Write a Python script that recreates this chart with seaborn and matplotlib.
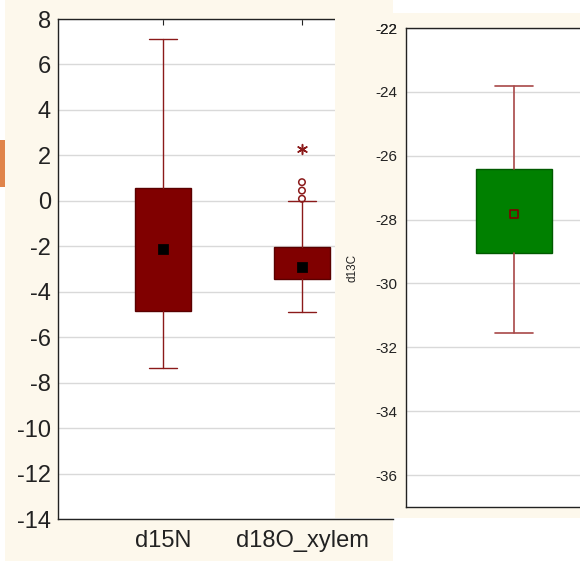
import matplotlib
matplotlib.use("Agg")
import matplotlib.pyplot as plt
from matplotlib.patches import Rectangle
import seaborn as sns
import pandas as pd

# ---- data ----
left_vars = ["d15N", "d18O_xylem"]
left_whislo = [-7.35, -4.88]
left_q1 = [-4.83, -3.43]
left_q3 = [0.57, -2.02]
left_whishi = [7.12, 0.0]
left_mid = [-2.1, -2.9]
outlier_vals = [0.09, 0.45, 0.82]
extreme_vals = [2.29]

right_var = ["d13C"]
right_whislo = [-31.55]
right_q1 = [-29.06]
right_q3 = [-26.41]
right_whishi = [-23.83]
right_mid = [-27.82]

left_yticks = list(range(-14, 9, 2))
right_yticks = list(range(-36, -21, 2))

sns.set_style("white")
plt.rcParams['font.family'] = ['Liberation Sans', 'DejaVu Sans']
plt.rcParams['axes.unicode_minus'] = False

W, H = 580, 561
fig = plt.figure(figsize=(W / 100, H / 100), dpi=100)
fig.patch.set_facecolor("white")

cream = "#FDF8EC"
def fr(x0, y0, x1, y1):
    return [x0 / W, 1 - y1 / H, (x1 - x0) / W, (y1 - y0) / H]

# background panels
l, b, w, h = fr(5, 0, 393, 561)
fig.patches.append(Rectangle((l, b), w, h, transform=fig.transFigure, facecolor=cream, edgecolor="none", zorder=-2))
l, b, w, h = fr(0, 140, 5, 187)
fig.patches.append(Rectangle((l, b), w, h, transform=fig.transFigure, facecolor="#E0844A", edgecolor="none", zorder=-2))
l, b, w, h = fr(335, 13, 580, 518)
fig.patches.append(Rectangle((l, b), w, h, transform=fig.transFigure, facecolor=cream, edgecolor="none", zorder=1))

# ---- left panel ----
axL = fig.add_axes(fr(58, 19, 393, 519))
axL.set_zorder(0)
axL.set_facecolor("white")
statsL = []
for i, v in enumerate(left_vars):
    statsL.append(dict(label=v, whislo=left_whislo[i], q1=left_q1[i], med=left_mid[i],
                       q3=left_q3[i], whishi=left_whishi[i], fliers=[]))
axL.bxp(statsL, positions=[0, 1], widths=0.40, capwidths=0.20, patch_artist=True,
        showfliers=False,
        boxprops=dict(facecolor="#800000", edgecolor="#5a0000", linewidth=1),
        whiskerprops=dict(color="#8B1A1A", linewidth=1),
        capprops=dict(color="#8B1A1A", linewidth=1),
        medianprops=dict(linewidth=0))
dfm = pd.DataFrame({"x": [0, 1], "y": left_mid})
sns.scatterplot(data=dfm, x="x", y="y", ax=axL, marker="s", s=45, color="black",
                edgecolor="black", zorder=5)
dfo = pd.DataFrame({"x": [1] * len(outlier_vals), "y": outlier_vals})
sns.scatterplot(data=dfo, x="x", y="y", ax=axL, marker="o", s=22, facecolor="none",
                edgecolor="#8B1A1A", linewidth=1.1, zorder=5)
dfe = pd.DataFrame({"x": [1] * len(extreme_vals), "y": extreme_vals})
sns.scatterplot(data=dfe, x="x", y="y", ax=axL, marker=(6, 2, 0), s=50,
                color="#8B1A1A", edgecolor="#8B1A1A", linewidth=1.1, zorder=5)
axL.set_xlim(-0.755, 1.655)
axL.set_ylim(-14, 8)
axL.set_yticks(left_yticks)
axL.set_xticks([0, 1])
axL.set_xticklabels(left_vars)
axL.yaxis.grid(True, color="#d9d9d9", linewidth=1)
axL.set_axisbelow(True)
axL.set_xlabel("")
axL.set_ylabel("")
axL.tick_params(axis="y", direction="in", length=3, labelsize=17, pad=5, colors="#222222")
axL.tick_params(axis="x", direction="in", length=4, labelsize=17, pad=8, colors="#222222", top=True)
for s in ["left", "bottom", "top"]:
    axL.spines[s].set_color("#222222")
    axL.spines[s].set_linewidth(1)
axL.spines["right"].set_visible(False)

# ---- right panel ----
axR = fig.add_axes(fr(406, 28, 622, 507))
axR.set_zorder(2)
axR.set_facecolor("white")
statsR = [dict(label=right_var[0], whislo=right_whislo[0], q1=right_q1[0], med=right_mid[0],
               q3=right_q3[0], whishi=right_whishi[0], fliers=[])]
axR.bxp(statsR, positions=[0], widths=0.352, capwidths=0.176, patch_artist=True,
        showfliers=False,
        boxprops=dict(facecolor="#008000", edgecolor="#005a00", linewidth=1),
        whiskerprops=dict(color="#A84848", linewidth=1.2),
        capprops=dict(color="#A84848", linewidth=1.2),
        medianprops=dict(linewidth=0))
dfr = pd.DataFrame({"x": [0], "y": right_mid})
sns.scatterplot(data=dfr, x="x", y="y", ax=axR, marker="s", s=28, facecolor="none",
                edgecolor="#800000", linewidth=1.2, zorder=5)
axR.set_xlim(-0.5, 0.5)
axR.set_ylim(-37, -22)
axR.set_yticks(right_yticks + [-22])
axR.set_xticks([])
axR.yaxis.grid(True, color="#d9d9d9", linewidth=1)
axR.set_axisbelow(True)
axR.set_xlabel("")
axR.set_ylabel("d13C", fontsize=8.5, color="#222222")
axR.yaxis.set_label_coords(-0.22, 0.5)
axR.tick_params(axis="y", direction="in", length=3, labelsize=11, pad=6, colors="#222222")
for s in ["left", "bottom", "top"]:
    axR.spines[s].set_color("#222222")
    axR.spines[s].set_linewidth(1)
axR.spines["right"].set_visible(False)

fig.savefig("out.png", dpi=100, facecolor=fig.get_facecolor())
